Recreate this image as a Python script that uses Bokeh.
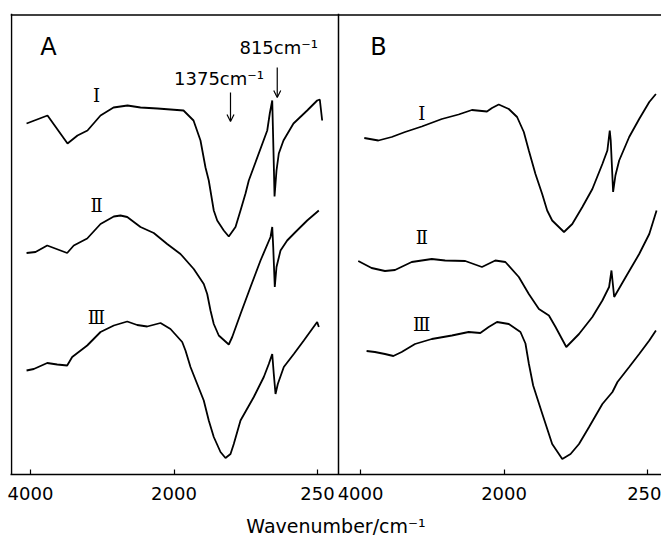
import numpy as np
from bokeh.plotting import figure
from bokeh.models import Span, FixedTicker, Arrow, OpenHead, Label
from bokeh.embed import file_html
from bokeh.resources import INLINE

# ---------------- data ----------------
# wavenumber (cm^-1) and transmittance (arbitrary units, traces offset)
A1_wn = [4055, 3763, 3484, 3345, 3206, 3024, 2843, 2648, 2467, 2230, 1884, 1762,
         1677, 1616, 1576, 1515, 1473, 1393, 1332, 1250, 1189, 1128, 1088, 1027,
         863, 832, 802, 787, 774, 750, 722, 665, 543, 376, 254, 222, 193]
A1_t = [70.2, 71.8, 66.2, 67.8, 68.8, 71.8, 73.4, 73.8, 73.4, 73.2, 72.8, 70.8,
        66.8, 61.4, 58.8, 52.8, 50.8, 48.8, 47.6, 49.5, 52.8, 56.2, 58.8, 61.5,
        68.8, 72.2, 74.8, 64.8, 55.6, 60.8, 64.2, 66.8, 70.2, 72.8, 74.8, 75.0, 70.8]

A2_wn = [4055, 3930, 3767, 3489, 3397, 3210, 3024, 2839, 2746, 2652, 2467, 2282,
         2095, 1921, 1759, 1637, 1595, 1555, 1515, 1454, 1332, 1290, 1189, 1067,
         945, 823, 802, 790, 771, 750, 701, 620, 518, 376, 234]
A2_t = [44.3, 44.5, 45.8, 44.3, 45.8, 47.2, 50.1, 51.6, 51.8, 51.5, 49.5, 48.3,
        46.1, 44.1, 41.1, 38.1, 36.1, 32.8, 30.1, 27.8, 26.0, 27.5, 32.1, 37.5,
        42.8, 47.5, 49.5, 45.5, 37.5, 41.5, 44.8, 46.8, 48.5, 50.8, 52.8]

A3_wn = [4055, 3954, 3767, 3628, 3489, 3419, 3210, 3024, 2839, 2652, 2513, 2374,
         2188, 2049, 1900, 1860, 1799, 1717, 1637, 1576, 1515, 1433, 1372, 1311,
         1271, 1189, 1027, 905, 844, 802, 783, 762, 734, 661, 539, 417, 254, 234]
A3_t = [20.8, 21.1, 22.3, 22.0, 21.8, 23.5, 25.8, 28.5, 29.8, 30.6, 29.9, 29.6,
        30.3, 29.1, 26.5, 24.8, 21.5, 18.1, 14.8, 10.8, 7.5, 4.5, 3.3, 4.1,
        6.1, 10.8, 15.5, 19.5, 22.1, 24.1, 20.1, 16.1, 18.1, 21.5, 24.1, 26.8, 30.5, 29.5]

B1_wn = [3948, 3752, 3566, 3380, 3147, 2867, 2634, 2448, 2238, 2168, 2074, 1942,
         1841, 1759, 1698, 1617, 1535, 1474, 1413, 1269, 1168, 1045, 923, 801,
         740, 711, 699, 670, 642, 596, 474, 352, 229, 148]
B1_t = [67.3, 66.8, 67.5, 68.5, 69.6, 71.1, 72.0, 72.9, 72.6, 73.3, 74.0, 73.1,
        71.5, 68.5, 64.8, 60.1, 56.1, 52.8, 50.8, 48.5, 50.1, 53.5, 57.1, 62.1,
        64.8, 68.8, 66.8, 56.5, 59.8, 62.8, 67.5, 71.1, 74.5, 76.1]

B2_wn = [4032, 3846, 3660, 3520, 3287, 3007, 2821, 2541, 2308, 2122, 1984, 1820,
         1698, 1575, 1453, 1372, 1241, 1086, 923, 801, 719, 690, 657, 516,
         352, 229, 140]
B2_t = [42.7, 41.3, 40.7, 40.9, 42.5, 43.1, 42.8, 42.7, 41.5, 42.8, 42.5, 39.5,
        36.1, 33.1, 31.8, 29.5, 25.5, 28.1, 31.5, 34.8, 37.5, 40.8, 35.5, 39.5,
        44.1, 48.1, 52.8]

B3_wn = [3916, 3800, 3660, 3543, 3427, 3241, 3007, 2727, 2494, 2331, 2214, 2098,
         1942, 1800, 1739, 1698, 1645, 1535, 1413, 1290, 1189, 1086, 963, 801,
         678, 617, 474, 352, 229, 148]
B3_t = [24.7, 24.5, 24.1, 23.7, 24.5, 26.1, 27.1, 27.8, 28.5, 28.3, 29.5, 30.5,
        30.1, 28.5, 26.2, 22.2, 17.8, 12.2, 6.1, 3.1, 4.1, 6.1, 9.5, 14.1,
        16.5, 18.5, 21.5, 24.1, 26.8, 28.8]

TICK_WN = [4000, 2000, 250]
TICK_LABELS = ["4000", "2000", "250"]
TRACE_NAMES = ["\u2160", "\u2161", "\u2162"]
PANEL_NAMES = ["A", "B"]
ANNOT_TEXT = ["1375cm\u207b\u00b9", "815cm\u207b\u00b9"]
ANNOT_WN = [1311, 741]

# ---------------- axis mapping (scale changes at 2000 cm^-1) ----------------
PANEL_OFFSET = [0.0, 2.3]


def axis_pos(wn, panel):
    w = np.asarray(wn, dtype=float)
    u = np.where(w >= 2000, (4000 - w) / 2000.0, 1 + (2000 - w) / 1750.0)
    return u + PANEL_OFFSET[panel]


p = figure(width=661, height=541, x_range=(-0.1394, 4.3972), y_range=(0, 92.2),
           output_backend="svg", toolbar_location=None,
           min_border_left=10, min_border_right=0, min_border_top=13,
           min_border_bottom=67, y_axis_location=None, outline_line_color=None,
           background_fill_color="white", border_fill_color="white")
p.xgrid.visible = False
p.ygrid.visible = False

ticks = []
overrides = {}
for k in range(2):
    for wn, lab in zip(TICK_WN, TICK_LABELS):
        t = round(float(axis_pos([wn], k)[0]), 4)
        ticks.append(t)
        overrides[t] = lab
ax = p.xaxis[0]
ax.ticker = FixedTicker(ticks=ticks)
ax.major_label_overrides = overrides
ax.major_tick_in = 5
ax.major_tick_out = 0
ax.minor_tick_in = 0
ax.minor_tick_out = 0
ax.major_tick_line_width = 1.2
ax.axis_line_width = 1.5
ax.axis_line_color = "black"
ax.major_label_text_font = "DejaVu Sans"
ax.major_label_text_font_size = "18px"
ax.major_label_text_color = "black"
ax.major_label_standoff = 12
ax.axis_label = "Wavenumber/cm\u207b\u00b9"
ax.axis_label_text_font = "DejaVu Sans"
ax.axis_label_text_font_size = "19px"
ax.axis_label_text_font_style = "normal"
ax.axis_label_text_color = "black"
ax.axis_label_standoff = 12

# frame borders
p.add_layout(Span(location=91.9, dimension="width", line_color="black", line_width=1.5))
p.add_layout(Span(location=-0.1324, dimension="height", line_color="black", line_width=1.5))
p.add_layout(Span(location=2.1463, dimension="height", line_color="black", line_width=1.5))

# spectra
series = [(A1_wn, A1_t, 0), (A2_wn, A2_t, 0), (A3_wn, A3_t, 0),
          (B1_wn, B1_t, 1), (B2_wn, B2_t, 1), (B3_wn, B3_t, 1)]
for wn, t, k in series:
    p.line(axis_pos(wn, k), t, line_color="black", line_width=1.8)

# trace labels
label_y = [[75.8, 53.8, 31.5], [72.2, 47.5, 30.1]]
label_wn = [3080, 3147]
for k in range(2):
    for name, y in zip(TRACE_NAMES, label_y[k]):
        p.add_layout(Label(x=float(axis_pos([label_wn[k]], k)[0]), y=y, text=name,
                           text_font="DejaVu Serif", text_font_size="18px",
                           text_align="center", text_baseline="middle",
                           text_color="black"))

# panel letters
for k, name in enumerate(PANEL_NAMES):
    p.add_layout(Label(x=float(axis_pos([3750], k)[0]), y=85.6, text=name,
                       text_font="DejaVu Sans", text_font_size="24px",
                       text_align="center", text_baseline="middle",
                       text_color="black"))

# band annotations
annot_text_y = [79.2, 85.4]
annot_text_dx = [-0.08, 0.01]
arrow_y = [(76.4, 70.6), (81.4, 75.4)]
for txt, wn, ty, dx, (y0, y1) in zip(ANNOT_TEXT, ANNOT_WN, annot_text_y, annot_text_dx, arrow_y):
    xg = float(axis_pos([wn], 0)[0])
    p.add_layout(Label(x=xg + dx, y=ty, text=txt, text_font="DejaVu Sans",
                       text_font_size="18px", text_align="center",
                       text_baseline="middle", text_color="black"))
    p.add_layout(Arrow(end=OpenHead(size=7, line_width=1.2, line_color="black"),
                       x_start=xg, y_start=y0, x_end=xg, y_end=y1,
                       line_width=1.2, line_color="black"))

open("out.html", "w").write(file_html(p, INLINE))
